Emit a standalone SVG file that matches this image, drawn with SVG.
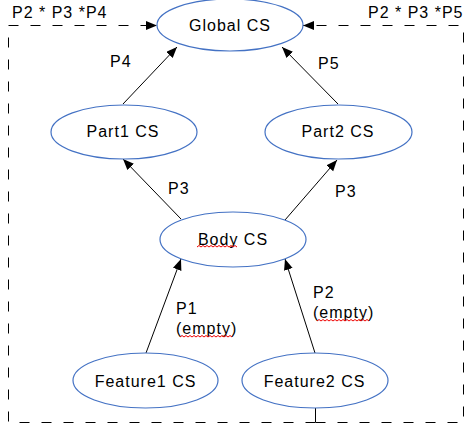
<svg xmlns="http://www.w3.org/2000/svg" width="470" height="426" viewBox="0 0 470 426">
<style>
text{font-family:"Liberation Sans",Arial,sans-serif;font-size:16px;letter-spacing:1px;fill:#000}
.n ellipse{fill:#fff;stroke:#4472C4;stroke-width:1.2}
.n text{text-anchor:middle}
.c{stroke:#000;stroke-width:1;fill:none}
.d{stroke:#000;stroke-width:1;fill:none;stroke-dasharray:10 12}
.sq{stroke:#e00;stroke-width:1;fill:none}
</style>
<defs>
<marker id="ah" markerUnits="userSpaceOnUse" markerWidth="12" markerHeight="10" refX="11" refY="4.5" orient="auto">
<path d="M0,0 L11,4.5 L0,9 z" fill="#000"/>
</marker>
</defs>
<rect width="470" height="426" fill="#fff"/>
<g id="connectors">
<path class="d" d="M315.5,422.5 H8.5 V25.5 H157" marker-end="url(#ah)"/>
<path class="d" d="M315.5,422.5 H463.5 V25.5 H303" marker-end="url(#ah)"/>
<path class="c" d="M315.5,408 V422"/>
<path class="c" d="M123,104 L177,47" marker-end="url(#ah)"/>
<path class="c" d="M338,104 L282,47" marker-end="url(#ah)"/>
<path class="c" d="M181,219 L123,159" marker-end="url(#ah)"/>
<path class="c" d="M285,220 L337,160" marker-end="url(#ah)"/>
<path class="c" d="M146,353 L181,259" marker-end="url(#ah)"/>
<path class="c" d="M315,353 L285,259" marker-end="url(#ah)"/>
</g>
<g id="labels">
<text x="12" y="18">P2 * P3 *P4</text>
<text x="368" y="18">P2 * P3 *P5</text>
<text x="110" y="67">P4</text>
<text x="318" y="69">P5</text>
<text x="168" y="194">P3</text>
<text x="335" y="197">P3</text>
<text x="176" y="314">P1</text>
<text x="176" y="334">(empty)</text>
<text x="313" y="298">P2</text>
<text x="313" y="318">(empty)</text>
</g>
<g id="global"><g class="n"><ellipse cx="230" cy="25" rx="73" ry="26"/><text x="230" y="31">Global CS</text></g></g>
<g id="part1"><g class="n"><ellipse cx="124" cy="132" rx="73" ry="27"/><text x="123" y="137">Part1 CS</text></g></g>
<g id="part2"><g class="n"><ellipse cx="338.5" cy="132" rx="73.5" ry="27"/><text x="338" y="137">Part2 CS</text></g></g>
<g id="body"><g class="n"><ellipse cx="233" cy="239.5" rx="73" ry="27.5"/><text x="233" y="245">Body CS</text></g></g>
<g id="feature1"><g class="n"><ellipse cx="145.5" cy="380.5" rx="72.5" ry="27.5"/><text x="145.5" y="387">Feature1 CS</text></g></g>
<g id="feature2"><g class="n"><ellipse cx="315" cy="380.5" rx="73" ry="27.5"/><text x="314.5" y="387">Feature2 CS</text></g></g>
<g id="squiggles">
<path class="sq" d="M197,247 l2,-1.5 l2,1.5 l2,-1.5 l2,1.5 l2,-1.5 l2,1.5 l2,-1.5 l2,1.5 l2,-1.5 l2,1.5 l2,-1.5 l2,1.5 l2,-1.5 l2,1.5 l2,-1.5 l2,1.5 l2,-1.5 l2,1.5 l2,-1.5 l2,1.5"/>
<path class="sq" d="M180,337 l2,-1.5 l2,1.5 l2,-1.5 l2,1.5 l2,-1.5 l2,1.5 l2,-1.5 l2,1.5 l2,-1.5 l2,1.5 l2,-1.5 l2,1.5 l2,-1.5 l2,1.5 l2,-1.5 l2,1.5 l2,-1.5 l2,1.5 l2,-1.5 l2,1.5 l2,-1.5 l2,1.5 l2,-1.5 l2,1.5 l2,-1.5 l2,1.5"/>
<path class="sq" d="M317,321 l2,-1.5 l2,1.5 l2,-1.5 l2,1.5 l2,-1.5 l2,1.5 l2,-1.5 l2,1.5 l2,-1.5 l2,1.5 l2,-1.5 l2,1.5 l2,-1.5 l2,1.5 l2,-1.5 l2,1.5 l2,-1.5 l2,1.5 l2,-1.5 l2,1.5 l2,-1.5 l2,1.5 l2,-1.5 l2,1.5 l2,-1.5 l2,1.5"/>
</g>
</svg>
